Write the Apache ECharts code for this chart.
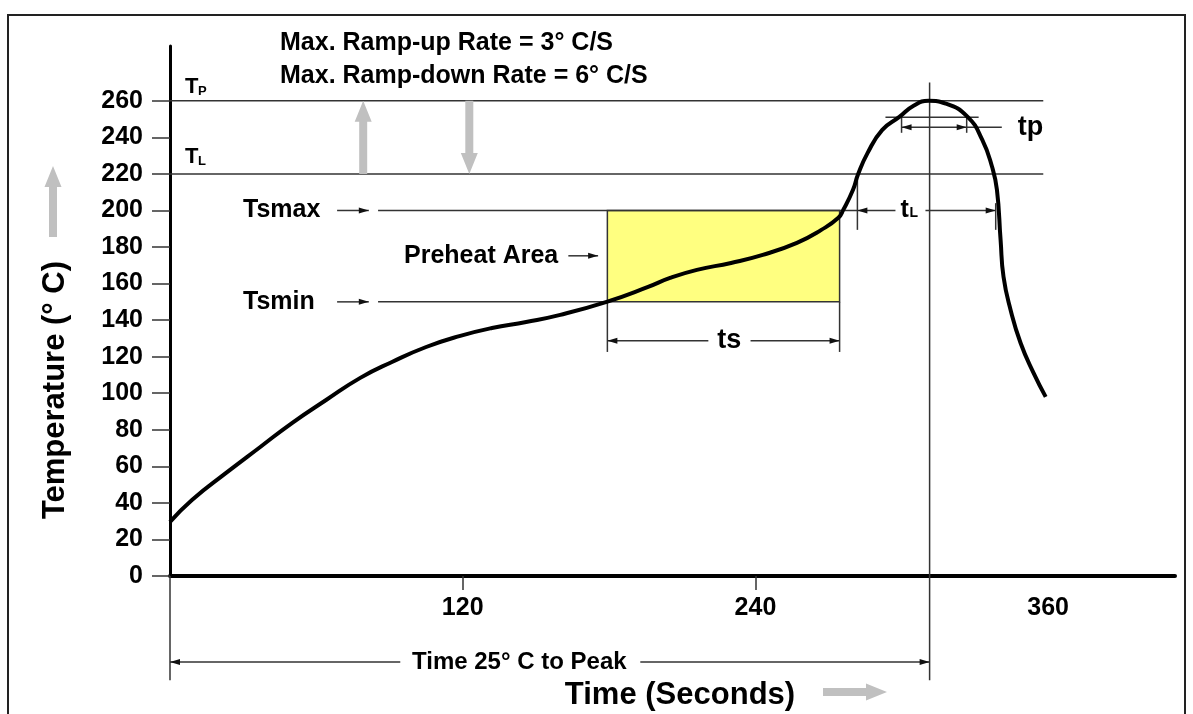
<!DOCTYPE html>
<html>
<head>
<meta charset="UTF-8">
<title>Reflow profile</title>
<style>
  html, body { margin: 0; padding: 0; background: #fff; }
  #main { width: 1193px; height: 714px; }
</style>
</head>
<body>
<div id="main"></div>
<script src="https://cdn.jsdelivr.net/npm/echarts@6/dist/echarts.min.js"></script>
<script>
// reflow curve: time (s) / temperature (°C)
var curveTime = [0, 9, 23, 37, 50, 64, 78, 91, 105, 119, 132, 146, 160, 179, 196, 205, 216, 230, 243, 257,
                 267, 274, 276, 280, 282, 286, 292, 299, 305, 311, 318, 327, 333, 337, 339, 340.5, 341.7, 344.6, 348.7, 354, 359];
var curveTemp = [29.6, 41.6, 56.4, 70.6, 83.7, 96.3, 108.4, 117.1, 125.3, 131.4, 135.7, 139, 142.9, 150, 158.2, 163.1, 167.5, 171.3, 175.7, 182.3,
                 189.4, 196, 200.3, 211.3, 219.5, 231.5, 244.1, 251.2, 257.5, 260, 258.5, 251.2, 238.6, 223.9, 211.3, 183.9, 163.7, 145.6, 127.5, 111.1, 98];

var yTicks = [0, 20, 40, 60, 80, 100, 120, 140, 160, 180, 200, 220, 240, 260];
var xTicks = [120, 240];
var xLabels = [120, 240, 360];

// levels and times of the annotations
var tpTemp = 260, tlTemp = 220, tsMax = 200, tsMin = 150;
var tsStart = 179.3, tsEnd = 274.5;
var peakTime = 311.4;
var tlStart = 281.8, tlEnd = 338.5;
var tpStart = 299.9, tpEnd = 326.6;

var FONT = '"Liberation Sans", Arial, sans-serif';

var chart = echarts.init(document.getElementById('main'));

var curve = [];
for (var i = 0; i < curveTime.length; i++) curve.push([curveTime[i], curveTemp[i]]);

var option = {
    animation: false,
    grid: { left: 170, right: 18, top: 46, bottom: 138 },
    xAxis: {
        type: 'value', min: 0, max: 412,
        axisLine: { show: true, lineStyle: { color: '#000', width: 4 } },
        axisTick: { show: true, customValues: xTicks, length: 14, lineStyle: { color: '#333', width: 1.5 } },
        axisLabel: { customValues: xLabels, margin: 20, color: '#000', fontSize: 25, fontWeight: 'bold', fontFamily: FONT },
        splitLine: { show: false }
    },
    yAxis: {
        type: 'value', min: 0, max: 290,
        axisLine: { show: true, lineStyle: { color: '#000', width: 3 } },
        axisTick: { show: true, customValues: yTicks, length: 18, lineStyle: { color: '#333', width: 1.5 } },
        axisLabel: { customValues: yTicks, margin: 27, color: '#000', fontSize: 25, fontWeight: 'bold', fontFamily: FONT },
        splitLine: { show: false }
    },
    series: [{
        type: 'line',
        data: curve,
        showSymbol: false,
        smooth: 0.5,
        z: 5,
        lineStyle: { color: '#000', width: 4 },
        markArea: {
            silent: true,
            itemStyle: { color: '#FFFF80', borderColor: '#333', borderWidth: 1.5 },
            data: [[{ coord: [tsStart, tsMin] }, { coord: [tsEnd, tsMax] }]]
        }
    }]
};
chart.setOption(option);

// ---- annotations, placed through the chart's own scales ----
function px(t, v) { return chart.convertToPixel({ gridIndex: 0 }, [t, v]); }

function seg(a, b, w, c) {
    return { type: 'line', silent: true, z: 1,
        shape: { x1: a[0], y1: a[1], x2: b[0], y2: b[1] },
        style: { stroke: c || '#333', lineWidth: w || 1.5 } };
}
function dseg(t1, v1, t2, v2, w) { return seg(px(t1, v1), px(t2, v2), w); }

// small black arrow head, dir +1 points right, -1 points left
function head(tip, dir) {
    return { type: 'polygon', silent: true, z: 1,
        shape: { points: [[tip[0], tip[1]], [tip[0] - dir * 10, tip[1] - 3], [tip[0] - dir * 10, tip[1] + 3]] },
        style: { fill: '#111' } };
}

// fat grey arrow from p to q (vertical or horizontal)
function fatArrow(p, q) {
    var dx = q[0] - p[0], dy = q[1] - p[1];
    var len = Math.sqrt(dx * dx + dy * dy), ux = dx / len, uy = dy / len;
    var nx = -uy, ny = ux, hl = 21, sw = 4, hw = 8.5;
    var b = [q[0] - ux * hl, q[1] - uy * hl];
    return { type: 'polygon', silent: true, z: 1,
        shape: { points: [
            [p[0] + nx * sw, p[1] + ny * sw], [b[0] + nx * sw, b[1] + ny * sw], [b[0] + nx * hw, b[1] + ny * hw],
            [q[0], q[1]],
            [b[0] - nx * hw, b[1] - ny * hw], [b[0] - nx * sw, b[1] - ny * sw], [p[0] - nx * sw, p[1] - ny * sw]] },
        style: { fill: '#c0c0c0' } };
}

function txt(s, x, y, size, align, extra) {
    var g = { type: 'text', silent: true, z: 3, x: x, y: y,
        style: { text: s, fill: '#000', font: 'bold ' + size + 'px ' + FONT, align: align || 'left', verticalAlign: 'middle' } };
    if (extra) for (var k in extra) g[k] = extra[k];
    return g;
}

var g = [];
// frame
g.push({ type: 'rect', silent: true, z: 0, shape: { x: 8, y: 15, width: 1177, height: 720 },
    style: { fill: null, stroke: '#222', lineWidth: 2 } });

// TP / TL levels
g.push(dseg(0, tpTemp, 358, tpTemp));
g.push(dseg(0, tlTemp, 358, tlTemp));

// Tsmax / Tsmin leaders
g.push(dseg(68.5, tsMax, 81.5, tsMax), head(px(81.5, tsMax), 1));
g.push(dseg(68.5, tsMin, 81.5, tsMin), head(px(81.5, tsMin), 1));
g.push(dseg(85.3, tsMax, 297.4, tsMax), dseg(309.7, tsMax, tlEnd, tsMax));
g.push(dseg(85.3, tsMin, tsStart, tsMin));
g.push(dseg(163.3, 175.2, 175.5, 175.2), head(px(175.5, 175.2), 1));

// ts dimension
g.push(dseg(tsStart, tsMin, tsStart, 122.6), dseg(tsEnd, tsMin, tsEnd, 122.6));
g.push(dseg(tsStart, 128.7, 220.7, 128.7), dseg(238, 128.7, tsEnd, 128.7));
g.push(head(px(tsStart, 128.7), -1), head(px(tsEnd, 128.7), 1));

// tL dimension
g.push(dseg(tlStart, 218.4, tlStart, 189.4), dseg(tlEnd, 204, tlEnd, 189.4));
g.push(head(px(tlStart, tsMax), -1), head(px(tlEnd, tsMax), 1));

// tp dimension
g.push(dseg(293.3, 251, 331.5, 251));
g.push(dseg(tpStart, 252.3, tpStart, 242.5), dseg(tpEnd, 252.3, tpEnd, 242.5));
g.push(dseg(tpStart, 245.5, 341, 245.5));
g.push(head(px(tpStart, 245.5), -1), head(px(tpEnd, 245.5), 1));

// time 25°C to peak
g.push(dseg(peakTime, 270, peakTime, -57), dseg(0, 0, 0, -57));
g.push(dseg(0, -47, 94.4, -47), dseg(192.8, -47, peakTime, -47));
g.push(head(px(0, -47), -1), head(px(peakTime, -47), 1));

// grey arrows
g.push(fatArrow(px(79.2, tlTemp), px(79.2, tpTemp)));
g.push(fatArrow(px(122.7, tpTemp), px(122.7, tlTemp)));
g.push(fatArrow([53, 237], [53, 166]));
g.push(fatArrow([823, 692], [887, 692]));

// texts
g.push(txt('Max. Ramp-up Rate = 3° C/S', 280, 43, 25));
g.push(txt('Max. Ramp-down Rate = 6° C/S', 280, 76, 25));
g.push(txt('T', 185, 87, 22), txt('P', 198, 91, 13));
g.push(txt('T', 185, 157, 22), txt('L', 198, 161, 13));
var p;
p = px(0, tsMax); g.push(txt('Tsmax', 243, p[1], 25));
p = px(0, tsMin); g.push(txt('Tsmin', 243, p[1], 25));
p = px(0, 175.2); g.push(txt('Preheat Area', 404, p[1], 25));
p = px(229.3, 128.7); g.push(txt('ts', p[0], p[1], 27, 'center'));
p = px(299.5, tsMax); g.push(txt('t', p[0], p[1], 25), txt('L', p[0] + 9, p[1] + 3, 14));
p = px(347.5, 245.5); g.push(txt('tp', p[0], p[1], 27));
p = px(143.2, -47); g.push(txt('Time 25° C to Peak', p[0], p[1], 24, 'center'));
g.push(txt('Time (Seconds)', 680, 695, 31, 'center'));
g.push(txt('Temperature (° C)', 55, 390, 31, 'center', { rotation: Math.PI / 2 }));

chart.setOption({ graphic: g });
</script>
</body>
</html>
